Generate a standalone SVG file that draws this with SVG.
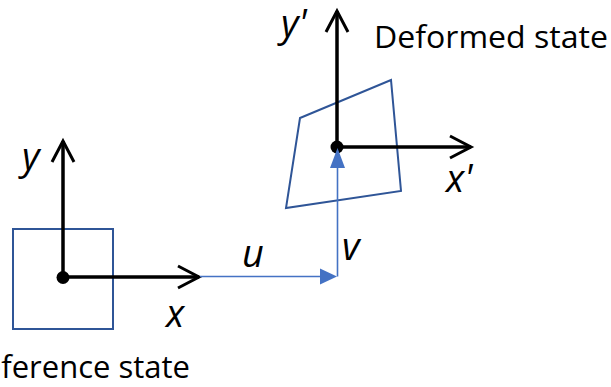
<svg xmlns="http://www.w3.org/2000/svg" width="611" height="387" viewBox="0 0 611 387">
<style>
.axis{stroke:#000;stroke-width:3.5;fill:none;stroke-linecap:butt}
.head{stroke:#000;stroke-width:3;fill:none;stroke-linejoin:miter}
.shape{stroke:#2F5597;stroke-width:2;fill:none}
.disp{stroke:#4472C4;stroke-width:1.6;fill:none}
.tri{fill:#4472C4;stroke:none}
.var{font-family:"Open Sans","Liberation Sans",sans-serif;font-style:italic;font-size:38px;fill:#000}
.lbl{font-family:"Open Sans","Liberation Sans",sans-serif;font-size:31px;fill:#000}
</style>
<rect width="611" height="387" fill="#fff"/>
<g id="reference">
  <rect class="shape" x="13" y="229" width="100" height="100"/>
  <line class="axis" x1="63" y1="277" x2="63" y2="141"/>
  <polyline class="head" points="52,162 63,141 74,162"/>
  <line class="axis" x1="63" y1="277" x2="199" y2="277"/>
  <polyline class="head" points="178,266 199,277 178,288"/>
  <circle cx="63" cy="277.5" r="6.5" fill="#000"/>
  <text class="var" x="22" y="170">y</text>
  <text class="var" x="166" y="327">x</text>
  <text class="lbl" x="190" y="378" text-anchor="end">Reference state</text>
</g>
<g id="deformed">
  <polygon class="shape" points="300,118 391,80 401,191 286,208"/>
  <line class="axis" x1="337" y1="147" x2="337" y2="11"/>
  <polyline class="head" points="326,32 337,11 348,32"/>
  <line class="axis" x1="337" y1="147" x2="471" y2="147"/>
  <polyline class="head" points="450,136 471,147 450,158"/>
  <circle cx="337" cy="147" r="6.5" fill="#000"/>
  <text class="var" x="281" y="37">y'</text>
  <text class="var" x="446" y="192">x'</text>
  <text class="lbl" x="374" y="48" textLength="234" lengthAdjust="spacingAndGlyphs">Deformed state</text>
</g>
<g id="connectors">
  <line class="disp" x1="200" y1="276.5" x2="324" y2="276.5"/>
  <polygon class="tri" points="337,276.5 320,268.5 320,284.5"/>
  <line class="disp" x1="337.5" y1="276.5" x2="337.5" y2="162"/>
  <polygon class="tri" points="337.5,148 330,168 345,168"/>
  <text class="var" x="242" y="267">u</text>
  <text class="var" x="342" y="260">v</text>
</g>
</svg>
